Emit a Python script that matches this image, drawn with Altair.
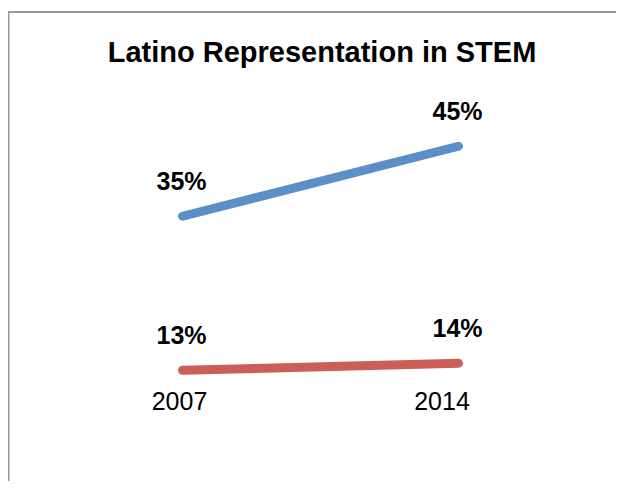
import altair as alt
import pandas as pd

# ---- data ----
years = [2007, 2014]
series_names = ["Series 1", "Series 2"]
series1 = [35, 45]
series2 = [13, 14]
colors = ["#5B8FC8", "#CB5F58"]
title_text = "Latino Representation in STEM"

rows = []
for name, vals in zip(series_names, [series1, series2]):
    for yr, v in zip(years, vals):
        rows.append({"year": yr, "series": name, "value": v})
df = pd.DataFrame(rows)

W, H = 608, 379
FONT = "Liberation Sans"

x = alt.X(
    "year:Q",
    scale=alt.Scale(domain=[2007, 2014], range=[174.5, 450.5]),
    axis=alt.Axis(
        values=years, format="d", domain=False, ticks=False, grid=False, title=None,
        labelFont=FONT, labelFontSize=25, labelColor="black", labelPadding=2,
        labelFlush=False, labelOverlap=False,
        labelOffset={"condition": {"test": "datum.value == 2014", "value": -17}, "value": -3.5},
    ),
)
y = alt.Y("value:Q", scale=alt.Scale(domain=[10.607, 64.75], nice=False, zero=False), axis=None)
color = alt.Color("series:N", scale=alt.Scale(domain=series_names, range=colors), legend=None)

base = alt.Chart(df)

lines = base.mark_line(strokeWidth=9, strokeCap="round", strokeJoin="round").encode(
    x=x, y=y, color=color
)

labels = base.transform_calculate(label="datum.value + '%'").mark_text(
    font=FONT, fontSize=25, fontWeight="bold", color="black",
    baseline="middle", align="center", dx=-1, dy=-34,
).encode(x=x, y=y, text="label:N")

frame_df = pd.DataFrame({"k": [0]})
top_border = alt.Chart(frame_df).mark_rule(color="#999999", strokeWidth=2).encode(
    x=alt.value(0), x2=alt.value(W), y=alt.value(4)
)
left_border = alt.Chart(frame_df).mark_rule(color="#999999", strokeWidth=1.5).encode(
    x=alt.value(0.75), y=alt.value(4), y2=alt.value(473)
)

chart = alt.layer(top_border, left_border, lines, labels).properties(
    width=W,
    height=H,
    padding={"left": 0, "top": 0, "right": 0, "bottom": 94},
    autosize=alt.AutoSizeParams(type="none"),
    background="white",
    title=alt.TitleParams(
        title_text, font=FONT, fontSize=29, fontWeight="bold", color="black",
        anchor="middle", dx=10, dy=83, baseline="alphabetic", offset=0,
    ),
).configure_view(stroke=None)

chart.save("out.html", embed_options={"renderer": "svg", "actions": False})
